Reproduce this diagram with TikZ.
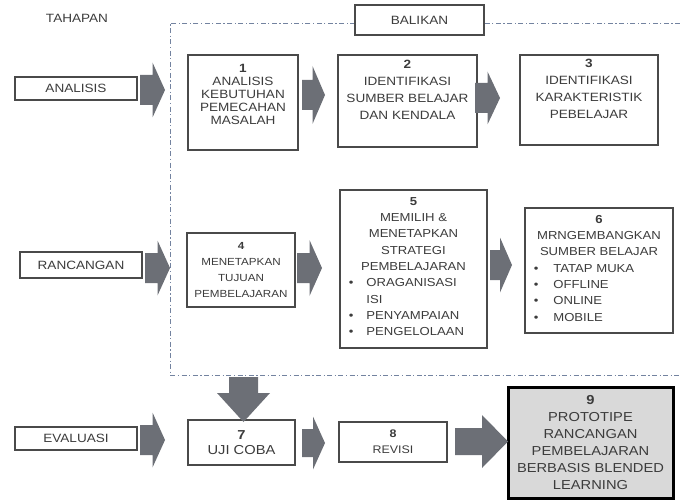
\documentclass[tikz,border=0pt]{standalone}
\usepackage{fontspec}
\setmainfont{Liberation Sans}[FakeStretch=1.13]
\definecolor{arrgray}{HTML}{6C6F76}
\definecolor{boxgray}{HTML}{4A4A4A}
\definecolor{txtgray}{HTML}{3C3C3C}
\definecolor{baliklin}{HTML}{7383A0}
\definecolor{protofill}{HTML}{D9D9D9}
\newcommand{\blockarrow}[6]{%
  \fill[arrgray] (#1,#3-#4) -- (#2-#6,#3-#4) -- (#2-#6,#3-#5) -- (#2,#3)
    -- (#2-#6,#3+#5) -- (#2-#6,#3+#4) -- (#1,#3+#4) -- cycle;}

\begin{document}
\begin{tikzpicture}[x=1pt,y=-1pt,
  stepbox/.style={draw=boxgray,line width=1.4pt,fill=white,align=center,text=txtgray,
    inner sep=2pt,font=\fontsize{12}{13}\selectfont},
  stagebox/.style={stepbox,font=\fontsize{12}{13}\selectfont},
  balik/.style={draw=baliklin,line width=0.8pt,dash pattern=on 5pt off 2.5pt on 1.2pt off 2.5pt}]
\useasboundingbox (0,0) rectangle (680,500);
\draw[balik] (680,23) -- (170,23) -- (170,375) -- (680,375);
\node[text=txtgray,font=\fontsize{12}{13}\selectfont] (tahapan) at (77,18) {TAHAPAN};
\node[stagebox,minimum width=129,minimum height=30] (balikan) at (419.5,20) {BALIKAN};
\node[stagebox,minimum width=122,minimum height=23] (analisis) at (76,88.5) {ANALISIS};
\node[stagebox,minimum width=122,minimum height=26] (rancangan) at (81,265) {RANCANGAN};
\node[stagebox,minimum width=122,minimum height=23] (evaluasi) at (76,438.5) {EVALUASI};
\node[stepbox,minimum width=110,minimum height=95] (s1) at (243,102.5)
  {\textbf{1}\\ANALISIS\\KEBUTUHAN\\PEMECAHAN\\MASALAH\\[3pt]\mbox{}};
\node[stepbox,minimum width=139,minimum height=92,font=\fontsize{12}{17}\selectfont] (s2) at (407.5,101)
  {\textbf{2}\\IDENTIFIKASI\\SUMBER BELAJAR\\DAN KENDALA\\[5pt]\mbox{}};
\node[stepbox,minimum width=138,minimum height=90,font=\fontsize{12}{17}\selectfont] (s3) at (589,100)
  {\textbf{3}\\IDENTIFIKASI\\KARAKTERISTIK\\PEBELAJAR\\[5pt]\mbox{}};
\node[stepbox,minimum width=108,minimum height=74,font=\fontsize{10.3}{16}\selectfont] (s4) at (241,270)
  {\textbf{4}\\MENETAPKAN\\TUJUAN\\PEMBELAJARAN};
\node[stepbox,minimum width=147,minimum height=158,font=\fontsize{11.6}{16.3}\selectfont] (s5) at (413.5,269)
  {\textbf{5}\\MEMILIH \&\\MENETAPKAN\\STRATEGI\\PEMBELAJARAN\\
   \begin{tabular}[t]{@{}l@{\hspace{13pt}}l@{\hspace{14pt}}}
   \textbullet & ORAGANISASI\\ & ISI\\ \textbullet & PENYAMPAIAN\\ \textbullet & PENGELOLAAN
   \end{tabular}};
\node[stepbox,minimum width=148,minimum height=125,font=\fontsize{11.6}{16.3}\selectfont] (s6) at (599,270.5)
  {\textbf{6}\\MRNGEMBANGKAN\\SUMBER BELAJAR\\
   \begin{tabular}[t]{@{}l@{\hspace{15pt}}l@{\hspace{30pt}}}
   \textbullet & TATAP MUKA\\ \textbullet & OFFLINE\\ \textbullet & ONLINE\\ \textbullet & MOBILE
   \end{tabular}};
\node[stepbox,minimum width=107,minimum height=45,font=\fontsize{13}{15}\selectfont] (s7) at (241.5,442.5)
  {\textbf{7}\\UJI COBA};
\node[stepbox,minimum width=108,minimum height=40,font=\fontsize{11}{16}\selectfont] (s8) at (393,442)
  {\textbf{8}\\REVISI};
\node[stepbox,draw=black,line width=3pt,fill=protofill,minimum width=165,minimum height=111,
  font=\fontsize{13}{17}\selectfont] (s9) at (590.5,442.5)
  {\textbf{9}\\PROTOTIPE\\RANCANGAN\\PEMBELAJARAN\\BERBASIS BLENDED\\LEARNING};
\blockarrow{140}{165}{90}{15}{27.5}{12.5}
\blockarrow{302}{325}{95}{15}{29}{12.5}
\blockarrow{475}{500}{98}{15}{26.5}{12.5}
\blockarrow{145}{170}{268}{15}{27.5}{12.5}
\blockarrow{297}{322}{268}{15}{28}{12.5}
\blockarrow{490}{512}{265}{15}{27.5}{12}
\blockarrow{140}{165}{440}{15}{27.5}{12.5}
\blockarrow{302}{325}{443}{14}{26.5}{12}
\blockarrow{455}{508}{441.5}{13.5}{26.5}{26}
\fill[arrgray] (229,377) -- (258,377) -- (258,393) -- (270,393) -- (243.5,422)
  -- (217,393) -- (229,393) -- cycle;
\end{tikzpicture}
\end{document}
